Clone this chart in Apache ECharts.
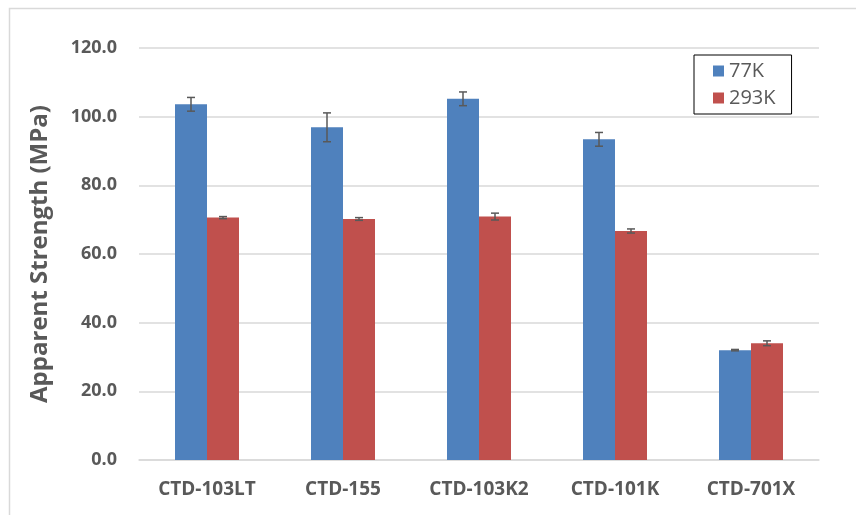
<!DOCTYPE html>
<html>
<head>
<meta charset="utf-8">
<script src="https://cdn.jsdelivr.net/npm/echarts@6/dist/echarts.min.js"></script>
<style>html,body{margin:0;padding:0;background:#fff;}#c{width:856px;height:515px;}</style>
</head>
<body>
<div id="c"></div>
<script>
var categories = ['CTD-103LT', 'CTD-155', 'CTD-103K2', 'CTD-101K', 'CTD-701X'];
var seriesNames = ['77K', '293K'];
var values77 = [103.6, 96.9, 105.2, 93.4, 32.0];
var err77 = [2.0, 4.2, 2.0, 2.0, 0.2];
var values293 = [70.6, 70.2, 70.9, 66.7, 34.0];
var err293 = [0.3, 0.4, 1.0, 0.6, 0.7];
var yTicks = [0, 20, 40, 60, 80, 100, 120];

var colors = ['#4F81BD', '#C0504D'];
var BAR_W = 32;

function errData(vals, errs) {
  return vals.map(function (v, i) { return [i, v - errs[i], v + errs[i]]; });
}
function errRender(offset) {
  return function (params, api) {
    var i = api.value(0);
    var lo = api.coord([i, api.value(1)]);
    var hi = api.coord([i, api.value(2)]);
    var x = lo[0] + offset;
    var cap = 4;
    var style = { stroke: '#595959', lineWidth: 1.5, fill: null };
    return {
      type: 'group',
      children: [
        { type: 'line', shape: { x1: x, y1: hi[1], x2: x, y2: lo[1] }, style: style },
        { type: 'line', shape: { x1: x - cap, y1: hi[1], x2: x + cap, y2: hi[1] }, style: style },
        { type: 'line', shape: { x1: x - cap, y1: lo[1], x2: x + cap, y2: lo[1] }, style: style }
      ]
    };
  };
}

var chart = echarts.init(document.getElementById('c'), null, { renderer: 'canvas' });
chart.setOption({
  animation: false,
  backgroundColor: '#fff',
  graphic: [{
    type: 'rect', left: 7, top: 6, shape: { width: 900, height: 600 },
    style: { fill: null, stroke: '#d9d9d9', lineWidth: 1.5 }, silent: true, z: -10
  }],
  grid: { left: 139, right: 37, top: 48, bottom: 55, containLabel: false },
  legend: {
    data: seriesNames,
    orient: 'vertical',
    left: 694, top: 55,
    padding: [6, 16, 6, 19],
    itemGap: 7,
    itemWidth: 11, itemHeight: 11,
    borderColor: '#000', borderWidth: 1,
    icon: 'rect',
    textStyle: { fontFamily: 'Open Sans', fontSize: 20, color: '#595959', padding: [0, 0, 0, 0] }
  },
  xAxis: {
    type: 'category',
    data: categories,
    axisLine: { lineStyle: { color: '#d9d9d9', width: 1.5 } },
    axisTick: { show: false },
    axisLabel: { fontFamily: 'Open Sans', fontWeight: 'bold', fontSize: 19, color: '#595959', margin: 20 }
  },
  yAxis: {
    type: 'value',
    min: yTicks[0], max: yTicks[yTicks.length - 1], interval: 20,
    name: 'Apparent Strength (MPa)',
    nameLocation: 'middle',
    nameGap: 87,
    nameTextStyle: { fontFamily: 'Open Sans', fontWeight: 'bold', fontSize: 24, color: '#595959' },
    axisLine: { show: false },
    axisTick: { show: false },
    splitLine: { lineStyle: { color: '#d9d9d9', width: 1.5 } },
    axisLabel: {
      fontFamily: 'Open Sans', fontWeight: 'bold', fontSize: 18, color: '#595959', margin: 22,
      formatter: function (v) { return v.toFixed(1); }
    }
  },
  series: [
    { name: seriesNames[0], type: 'bar', data: values77, barWidth: BAR_W, barGap: '0%',
      itemStyle: { color: colors[0] } },
    { name: seriesNames[1], type: 'bar', data: values293, barWidth: BAR_W, barGap: '0%',
      itemStyle: { color: colors[1] } },
    { type: 'custom', renderItem: errRender(-BAR_W / 2), data: errData(values77, err77), z: 10, silent: true },
    { type: 'custom', renderItem: errRender(BAR_W / 2), data: errData(values293, err293), z: 10, silent: true }
  ]
});
</script>
</body>
</html>
